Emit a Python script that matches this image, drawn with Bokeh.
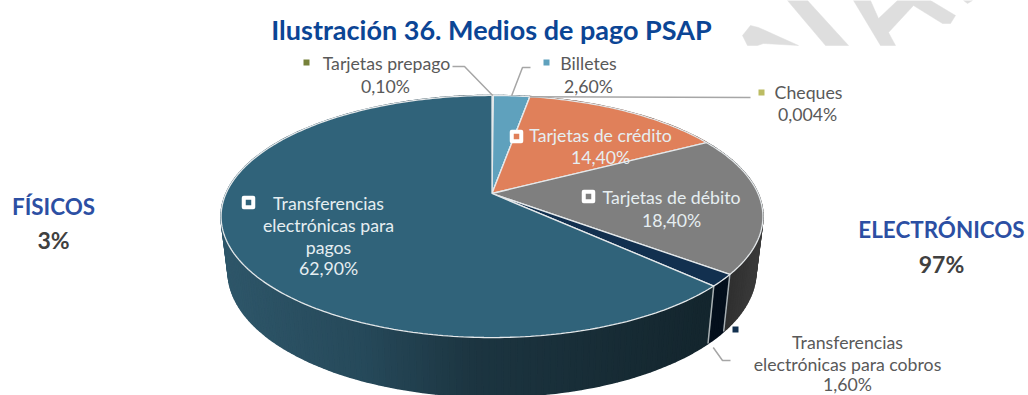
from bokeh.plotting import figure
from bokeh.embed import file_html
from bokeh.resources import INLINE
from bokeh.core.properties import value
import math

titulo = "Ilustración 36. Medios de pago PSAP"
categorias = ["Tarjetas prepago", "Billetes", "Cheques", "Tarjetas de crédito",
              "Tarjetas de débito", "Transferencias electrónicas para cobros",
              "Transferencias electrónicas para pagos"]
valores = [0.10, 2.60, 0.004, 14.40, 18.40, 1.60, 62.90]
etiquetas = ["0,10%", "2,60%", "0,004%", "14,40%", "18,40%", "1,60%", "62,90%"]
colores = ["#76813a", "#5fa1bd", "#bcbc63", "#e0805a", "#7f7f7f", "#12304f", "#30637a"]
grupos = ["FÍSICOS", "ELECTRÓNICOS"]
grupos_valor = ["3%", "97%"]

W, H = 1028, 395
p = figure(width=W, height=H, x_range=(0, W), y_range=(H, 0),
           output_backend="svg", toolbar_location=None, min_border=0)
p.axis.visible = False
p.grid.visible = False
p.outline_line_color = None
p.background_fill_color = "white"
p.border_fill_color = "white"

# watermark behind the chart
GRIS = "#dedede"
p.patches(
    [[742, 750, 758, 798, 763, 757, 747], [787, 807, 848, 825],
     [853, 880, 895, 888, 913, 942, 950, 955, 930, 897, 878, 870], [963, 967, 972]],
    [[35, 25, 27, 45, 43, 45, 45], [0, 0, 45, 45],
     [0, 45, 45, 32, 5, 23, 23, 15, 0, 0, 18, 0], [0, 3, 0]],
    fill_color=GRIS, line_color=GRIS, line_width=0.5)

# perspective pie geometry
CX, APEX, K, C, B = 491.5, 193.0, 266.0, 0.19, 80.0
TOTAL = sum(valores)


def punto(frac):
    a = 2 * math.pi * frac
    x, t = math.sin(a), -math.cos(a)
    d = 1 - C * t
    return CX + K * x / d, (APEX + B * t) / d


def abajo(xy):
    x, y = xy
    return CX + (x - CX) * 0.974, 271 + (y - 216) * 1.035


def mezcla(c1, c2, u):
    u = max(0.0, min(1.0, u))
    a = [int(c1[i:i + 2], 16) for i in (1, 3, 5)]
    b = [int(c2[i:i + 2], 16) for i in (1, 3, 5)]
    return "#%02x%02x%02x" % tuple(round(a[i] + (b[i] - a[i]) * u) for i in range(3))


def tono_pared(i, x):
    if i == 6:
        if x < 360:
            return mezcla("#2e5669", "#26495a", (x - 221) / 139)
        if x < 470:
            return mezcla("#26495a", "#1c3541", (x - 360) / 110)
        return mezcla("#1c3541", "#14262e", (x - 470) / 230)
    if i == 5:
        return "#040f1c"
    if i == 4:
        return mezcla("#2e2e2e", "#3a3a3a", (x - 725) / 35)
    return mezcla(colores[i], "#000000", 0.55)


inicios = []
acum = 0.0
for v in valores:
    inicios.append(acum / TOTAL)
    acum += v

# side wall, split into narrow strips for the shading
xs_w, ys_w, cs_w = [], [], []
for i, v in enumerate(valores):
    f0, f1 = inicios[i], inicios[i] + v / TOTAL
    n = max(1, int((f1 - f0) * 300))
    for k in range(n):
        a = punto(f0 + (f1 - f0) * k / n)
        b = punto(f0 + (f1 - f0) * (k + 1) / n)
        a2, b2 = abajo(a), abajo(b)
        xs_w.append([a[0], b[0], b2[0], a2[0]])
        ys_w.append([a[1], b[1], b2[1], a2[1]])
        cs_w.append(tono_pared(i, (a[0] + b[0]) / 2))
p.patches(xs_w, ys_w, fill_color=cs_w, line_color=cs_w, line_width=1.6)

# wall edges between the two front slices
for f in (inicios[5], inicios[6]):
    a = punto(f)
    b = abajo(a)
    p.line([a[0], b[0]], [a[1], b[1]], line_color="#a9b0b3", line_width=1.5)

# top surface
xs_t, ys_t = [], []
for i, v in enumerate(valores):
    f0, f1 = inicios[i], inicios[i] + v / TOTAL
    n = max(2, int((f1 - f0) * 400))
    pts = [punto(f0 + (f1 - f0) * k / n) for k in range(n + 1)]
    xs_t.append([CX] + [q[0] for q in pts])
    ys_t.append([APEX] + [q[1] for q in pts])
p.patches(xs_t, ys_t, fill_color=colores, line_color="#e4e8ea", line_width=1.3)

# leader lines, anchored on the slices
GL = "#a6a6a6"
m0 = punto(inicios[0] + valores[0] / TOTAL / 2)
m1 = punto(inicios[1] + valores[1] / TOTAL / 2)
m2 = punto(inicios[2])
m5 = abajo(punto(inicios[5] + valores[5] / TOTAL / 2))
p.line([452, 464, m0[0]], [66, 66, m0[1]], line_color=GL, line_width=1.5)
p.line([530, 522, m1[0]], [67, 67, m1[1]], line_color=GL, line_width=1.5)
p.line([m2[0], 750], [m2[1], 97], line_color=GL, line_width=1.5)
p.line([m5[0] - 3, 722, 730], [m5[1] + 10, 360, 360], line_color=GL, line_width=1.5)

FUENTE = value("Lato")


def texto(x, y, s, color, size="17.7px", style="normal"):
    p.text([x], [y], text=[s], text_color=color, text_font=FUENTE, text_font_size=size,
           text_font_style=style, text_align="center", text_baseline="middle")


GT = "#595959"
CL = "#e6eef1"
texto(491, 29, titulo, "#0b4595", "27px", "bold")

texto(386, 63, categorias[0], GT)
texto(385, 86, etiquetas[0], GT)
texto(588, 63, categorias[1], GT)
texto(588, 86, etiquetas[1], GT)
texto(808, 92, categorias[2], GT)
texto(807, 114, etiquetas[2], GT)
texto(600, 135, categorias[3], CL)
texto(600, 157, etiquetas[3], CL)
texto(671, 197, categorias[4], CL)
texto(671, 220, etiquetas[4], CL)
texto(328, 203, "Transferencias", CL)
texto(328, 225, "electrónicas para", CL)
texto(328, 247, "pagos", CL)
texto(328, 268, etiquetas[6], CL)
texto(847, 342, "Transferencias", GT)
texto(847, 364, "electrónicas para cobros", GT)
texto(847, 384, etiquetas[5], GT)

texto(53, 206, grupos[0], "#2c4fa3", "22.4px", "bold")
texto(53, 239, grupos_valor[0], "#404040", "23px", "bold")
texto(941, 229, grupos[1], "#2c4fa3", "22.4px", "bold")
texto(941, 263, grupos_valor[1], "#404040", "23px", "bold")

# legend keys
p.scatter([306, 546, 761, 735], [62, 62, 92, 329], marker="square", size=6,
          fill_color=[colores[0], colores[1], colores[2], colores[5]], line_color=None)
p.scatter([516, 588, 248], [136, 196, 202], marker="square", size=9.5,
          fill_color=[colores[3], colores[4], colores[6]], line_color="white",
          line_width=4, line_join="round")

open("out.html", "w").write(file_html(p, INLINE))
